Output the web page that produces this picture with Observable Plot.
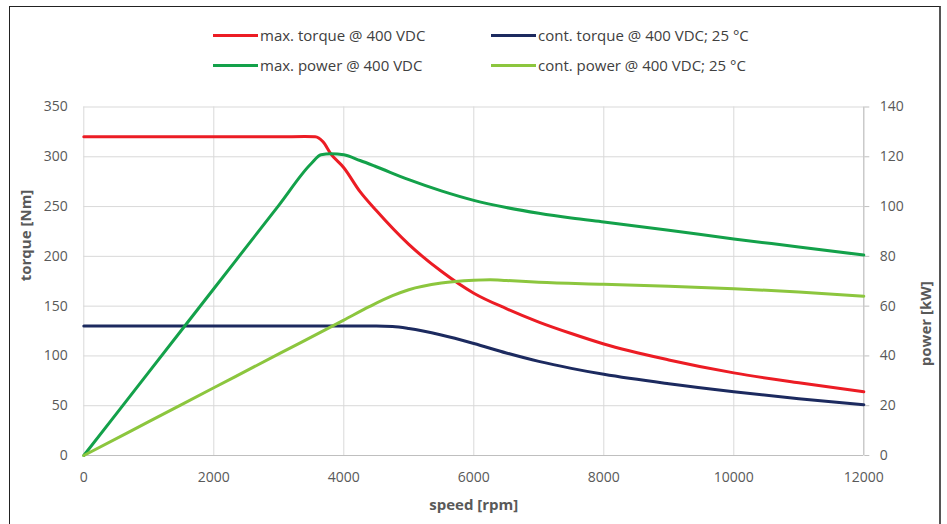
<!DOCTYPE html>
<html>
<head>
<meta charset="utf-8">
<script src="https://cdn.jsdelivr.net/npm/d3@7"></script>
<script src="https://cdn.jsdelivr.net/npm/@observablehq/plot@0.6"></script>
<style>
  html, body { margin: 0; padding: 0; background: #fff; }
  #wrap { position: relative; width: 947px; height: 524px; overflow: hidden; font-family: "Open Sans", sans-serif; }
  #frame { position: absolute; left: 9px; top: 6px; width: 929px; height: 560px; border-left: 1.5px solid #222; border-top: 1.5px solid #222; border-right: 2px solid #555; pointer-events: none; }
  #legend { position: relative; height: 95px; }
  .item { position: absolute; display: flex; align-items: center; font-size: 15px; color: #404040; white-space: nowrap; }
  .sw { width: 45px; height: 3px; margin-right: 2px; }
  #chart { position: absolute; left: 0; top: 95px; }
</style>
</head>
<body>
<div id="wrap">
  <div id="legend"></div>
  <div id="chart"></div>
  <div id="frame"></div>
</div>
<script>
// ---- data (speed in rpm, torque in Nm, power in kW) ----
const maxTorqueSpeed = [0, 1000, 2000, 3000, 3400, 3560, 3680, 3800, 4000, 4250, 4500, 5000, 5500, 6000, 6500, 7000, 7500, 8000, 9000, 10000, 11000, 12000];
const maxTorqueVal   = [320, 320, 320, 320, 320.3, 320, 315, 303, 289, 265, 246, 212, 185, 163, 147.5, 134, 122.5, 112, 96, 83, 73, 64];

const contTorqueSpeed = [0, 1000, 2000, 3000, 4000, 4500, 4750, 5000, 5500, 6000, 6500, 7000, 7500, 8000, 9000, 10000, 11000, 12000];
const contTorqueVal   = [130, 130, 130, 130, 130, 130, 129.5, 127.5, 121, 112.5, 103, 94.5, 87.5, 81.5, 72, 64, 57, 51];

const maxPowerSpeed = [0, 1000, 2000, 3000, 3500, 3650, 3800, 4000, 4250, 4500, 5000, 5500, 6000, 6500, 7000, 7500, 8000, 9000, 10000, 11000, 12000];
const maxPowerVal   = [0, 33.5, 67, 100.5, 117.3, 120.8, 121.2, 120.8, 118.5, 116, 110.8, 106.3, 102.5, 99.6, 97.3, 95.4, 93.8, 90.5, 87, 83.8, 80.5];

const contPowerSpeed = [0, 1000, 2000, 3000, 4000, 4400, 4750, 5000, 5500, 6000, 6250, 6500, 7000, 8000, 9000, 10000, 11000, 12000];
const contPowerVal   = [0, 13.6, 27.2, 40.8, 54.4, 59.9, 64.2, 66.6, 69.3, 70.4, 70.6, 70.3, 69.6, 68.8, 68, 67, 65.7, 64];

const xTicks = [0, 2000, 4000, 6000, 8000, 10000, 12000];
const torqueTicks = [0, 50, 100, 150, 200, 250, 300, 350];
const powerTicks = [0, 20, 40, 60, 80, 100, 120, 140];

const seriesNames = ["max. torque @ 400 VDC", "cont. torque @ 400 VDC; 25 °C", "max. power @ 400 VDC", "cont. power @ 400 VDC; 25 °C"];
const seriesColors = ["#ec1c24", "#1c2a5f", "#13a14a", "#8cc63e"];

// power axis is scaled onto torque axis: 140 kW <-> 350 Nm
const k = 350 / 140;

const toRows = (sp, v, name, isPower) => sp.map((s, i) => ({speed: s, y: isPower ? v[i] * k : v[i], name}));
const rows = [
  ...toRows(maxTorqueSpeed, maxTorqueVal, seriesNames[0], false),
  ...toRows(contTorqueSpeed, contTorqueVal, seriesNames[1], false),
  ...toRows(maxPowerSpeed, maxPowerVal, seriesNames[2], true),
  ...toRows(contPowerSpeed, contPowerVal, seriesNames[3], true)
];

// ---- legend ----
const legend = document.getElementById("legend");
const pos = [[213, 35], [491, 35], [213, 65], [491, 65]];
seriesNames.forEach((n, i) => {
  const d = document.createElement("div");
  d.className = "item";
  d.style.left = pos[i][0] + "px";
  d.style.top = (pos[i][1] - 10) + "px";
  d.style.height = "20px";
  d.innerHTML = `<div class="sw" style="background:${seriesColors[i]}"></div><span>${n}</span>`;
  legend.appendChild(d);
});

// ---- chart ----
const chart = Plot.plot({
  width: 947,
  height: 429,
  marginTop: 11.5,
  marginBottom: 69,
  marginLeft: 83.3,
  marginRight: 83.7,
  style: {fontFamily: "Open Sans, sans-serif", fontSize: "14px", color: "#595959", background: "#fff"},
  x: {domain: [0, 12000]},
  y: {domain: [0, 350]},
  color: {domain: seriesNames, range: seriesColors},
  marks: [
    Plot.gridX(xTicks, {stroke: "#d9d9d9", strokeOpacity: 1}),
    Plot.gridY(torqueTicks, {stroke: "#d9d9d9", strokeOpacity: 1}),
    Plot.ruleY([0], {stroke: "#bfbfbf"}),
    Plot.ruleX([12000], {stroke: "#bfbfbf"}),
    Plot.axisX({ticks: xTicks, tickSize: 0, tickPadding: 17, label: null, tickFormat: d => String(d)}),
    Plot.axisY({ticks: torqueTicks, tickSize: 0, tickPadding: 16, label: null, anchor: "left"}),
    Plot.axisY({ticks: torqueTicks, anchor: "right", tickSize: 5, tickPadding: 11, label: null,
      tickFormat: d => String(Math.round(d / k)), stroke: "#bfbfbf"}),
    Plot.line(rows, {x: "speed", y: "y", z: "name", stroke: "name", strokeWidth: 3, curve: "monotone-x"}),
    Plot.text(["torque [Nm]"], {frameAnchor: "left", dx: -58, rotate: -90, fontWeight: "bold", fontSize: 15, fill: "#595959", text: d => d}),
    Plot.text(["power [kW]"], {frameAnchor: "right", dx: 62, rotate: -90, fontWeight: "bold", fontSize: 15, fill: "#595959", text: d => d}),
    Plot.text(["speed [rpm]"], {frameAnchor: "bottom", dy: 50, lineAnchor: "middle", fontWeight: "bold", fontSize: 15, fill: "#595959", text: d => d})
  ]
});
document.getElementById("chart").appendChild(chart);
</script>
</body>
</html>
